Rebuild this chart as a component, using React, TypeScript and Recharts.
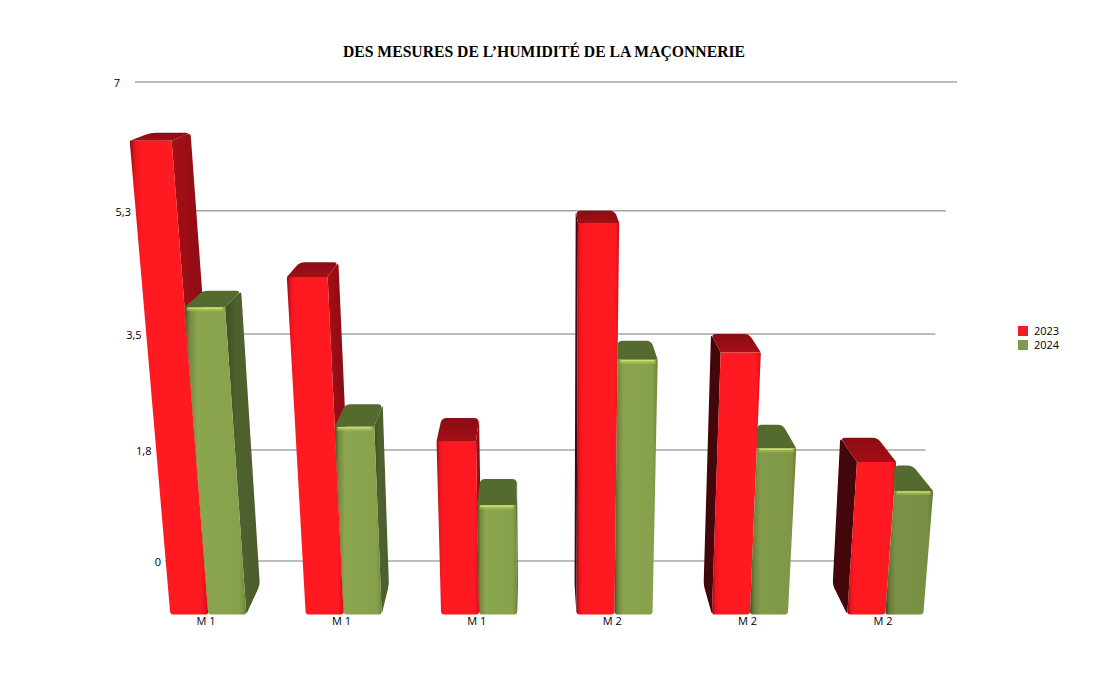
import React from 'react'
import { BarChart, Bar, XAxis, YAxis, CartesianGrid, Legend } from 'recharts'

const categories = ['M 1', 'M 1', 'M 1', 'M 2', 'M 2', 'M 2']
const values2023 = [6.33, 4.55, 2.27, 5.3, 3.5, 1.98]
const values2024 = [4.13, 2.47, 1.33, 3.4, 2.17, 1.55]
const valueTicks = [0, 1.8, 3.5, 5.3, 7]

const data = categories.map((name, i) => ({ name, y2023: values2023[i], y2024: values2024[i] }))

/* the wall of the 3D scene is not evenly spaced, so the axis gets its own scale */
const TICK_FRACTIONS = [0, 0.2317, 0.474, 0.731, 1]

function wallScale() {
  let dom: number[] = [0, 7]
  let rng: number[] = [0, 1]
  const s: any = (v: number) => {
    let f = 1
    for (let i = 0; i < valueTicks.length - 1; i++) {
      if (v <= valueTicks[i + 1]) {
        const t = (v - valueTicks[i]) / (valueTicks[i + 1] - valueTicks[i])
        f = TICK_FRACTIONS[i] + t * (TICK_FRACTIONS[i + 1] - TICK_FRACTIONS[i])
        break
      }
    }
    return rng[0] + (rng[1] - rng[0]) * f
  }
  s.domain = (d?: number[]) => {
    if (d) { dom = d; return s }
    return dom
  }
  s.range = (r?: number[]) => {
    if (r) { rng = r; return s }
    return rng
  }
  s.copy = () => wallScale().domain(dom).range(rng)
  s.ticks = () => valueTicks
  s.bandwidth = () => 0
  return s
}

const FLOOR_Y = 614.5
const BACK_FLOOR_Y = 585
const LEAN = 0.00022
const LEAN_X = 560
const DEPTH_X = 535
const DEPTH_K = 0.052

const depthY = (y: number) => 8 + 0.053 * (y - 133)
const dxTop = (x: number) => (DEPTH_X - x) * DEPTH_K
const dxBottom = (x: number) => (DEPTH_X - x) * DEPTH_K * 0.9

type Pt = [number, number]

// polygon with softened corners, one radius per corner
function roundPoly(pts: Pt[], radii: number[]) {
  const n = pts.length
  let d = ''
  for (let i = 0; i < n; i++) {
    const p = pts[i]
    const a = pts[(i + n - 1) % n]
    const b = pts[(i + 1) % n]
    const la = Math.hypot(a[0] - p[0], a[1] - p[1]) || 1
    const lb = Math.hypot(b[0] - p[0], b[1] - p[1]) || 1
    const ra = Math.min(radii[i], la / 2)
    const rb = Math.min(radii[i], lb / 2)
    const s: Pt = [p[0] + ((a[0] - p[0]) * ra) / la, p[1] + ((a[1] - p[1]) * ra) / la]
    const e: Pt = [p[0] + ((b[0] - p[0]) * rb) / lb, p[1] + ((b[1] - p[1]) * rb) / lb]
    d += `${i === 0 ? 'M' : 'L'}${s[0]},${s[1]} Q${p[0]},${p[1]} ${e[0]},${e[1]} `
  }
  return d + 'Z'
}

const THEME: Record<string, any> = {
  y2023: { front: 'url(#redFront)', top: 'url(#redTop)', right: 'url(#redRight)', left: '#43060a', glow: null },
  y2024: { front: 'url(#greenFront)', top: '#556a2f', right: 'url(#greenRight)', left: '#46582a', glow: '#cfe56f' },
}

function Bar3D(props: any) {
  const { x, y, width, series } = props
  const theme = THEME[series]
  const h = FLOOR_Y - (y + depthY(y))
  const topY = FLOOR_Y - h
  const lean = (bx: number) => LEAN_X + (bx - LEAN_X) * (1 + LEAN * h)

  const xL = x
  const xR = x + width
  const tL = lean(xL)
  const tR = lean(xR)

  // the green bar sits right against the red one, its left flank never shows
  const clampLeft = series === 'y2024'
  const backTL = tL + (clampLeft ? Math.max(dxTop(tL), 0) : dxTop(tL))
  const backBL = xL + (clampLeft ? Math.max(dxBottom(xL), 0) : dxBottom(xL))
  const backTR = tR + dxTop(tR)
  const backBR = xR + dxBottom(xR)
  const backY = y

  const front: Pt[] = [[tL, topY], [tR, topY], [xR, FLOOR_Y], [xL, FLOOR_Y]]
  const top: Pt[] = [[tL, topY], [backTL, backY], [backTR, backY], [tR, topY]]
  const rightSide: Pt[] = [[tR, topY], [backTR, backY], [backBR, BACK_FLOOR_Y], [xR, FLOOR_Y]]
  const leftSide: Pt[] = [[tL, topY], [backTL, backY], [backBL, BACK_FLOOR_Y], [xL, FLOOR_Y]]
  const dim = series === 'y2024' ? Math.max(0, (x - 600) / 300) * 0.12 : 0

  return (
    <g>
      {backTR > tR && <path d={roundPoly(rightSide, [0, 4, 4, 3])} fill={theme.right} />}
      {backTL < tL && <path d={roundPoly(leftSide, [0, 4, 4, 3])} fill={theme.left} />}
      <path d={roundPoly(top, [0, 5, 5, 0])} fill={theme.top} />
      <path d={roundPoly(front, [1, 1, 3, 3])} fill={theme.front} />
      {dim > 0 && <path d={roundPoly(front, [1, 1, 3, 3])} fill="#000" fillOpacity={dim} />}
      {theme.glow && (
        <>
          <line x1={tL + 2} y1={topY + 2} x2={tR - 2} y2={topY + 2} stroke={theme.glow} strokeWidth={4} strokeOpacity={0.3} />
          <line x1={tL + 3} y1={topY + 1} x2={tR - 3} y2={topY + 1} stroke={theme.glow} strokeWidth={1.5} strokeOpacity={0.85} />
        </>
      )}
    </g>
  )
}

const gridEnd = (y: number) => 957 - (y - 82) * 0.0856
const gridStart = (y: number) => 135 + (y - 82) * 0.0626

function WallLine(props: any) {
  const { y1 } = props
  return <line x1={gridStart(y1)} y1={y1} x2={gridEnd(y1)} y2={y1} stroke="#a6a6a6" strokeWidth={1.5} />
}

function ValueTick({ y, payload }: any) {
  return (
    <text x={120 + (y - 82) * 0.0856} y={y + 5} textAnchor="end" fontSize={11} fontFamily="'Open Sans', sans-serif" fill="#000">
      {String(payload.value).replace('.', ',')}
    </text>
  )
}

function CategoryTick({ x, payload }: any) {
  return (
    <text x={x - 2} y={625} textAnchor="middle" fontSize={11} fontFamily="'Open Sans', sans-serif" fill="#000">
      {payload.value}
    </text>
  )
}

function LegendBox({ payload }: any) {
  return (
    <div style={{ width: 0, height: 0, position: 'relative' }}>
      {(payload ?? []).map((p: any, i: number) => (
        <div
          key={p.value}
          style={{
            position: 'absolute', left: 0, top: i * 14, display: 'flex', alignItems: 'center', gap: 6,
            fontFamily: "'Open Sans', sans-serif", fontSize: 11, lineHeight: '14px', color: '#000',
          }}
        >
          <span style={{ width: 10, height: 10, background: p.color, display: 'inline-block' }} />
          <span>{p.value}</span>
        </div>
      ))}
    </div>
  )
}

export default function App() {
  return (
    <div style={{ position: 'absolute', left: 0, top: 0, width: 1105, height: 685, background: '#fff' }}>
      <BarChart
        width={1105}
        height={685}
        data={data}
        margin={{ top: 82, right: 152.3, bottom: 94, left: 130.3 }}
        barSize={38}
        barGap={0}
      >
        <defs>
          <linearGradient id="redFront" x1="0" y1="0" x2="1" y2="0">
            <stop offset="0%" stopColor="#8c0a10" />
            <stop offset="7%" stopColor="#ee141c" />
            <stop offset="16%" stopColor="#ff1921" />
            <stop offset="90%" stopColor="#ff1921" />
            <stop offset="98%" stopColor="#e01119" />
            <stop offset="100%" stopColor="#a00c12" />
          </linearGradient>
          <linearGradient id="redTop" x1="0" y1="0" x2="0" y2="1">
            <stop offset="0%" stopColor="#8a0d13" />
            <stop offset="100%" stopColor="#a50d16" />
          </linearGradient>
          <linearGradient id="redRight" x1="0" y1="0" x2="1" y2="0">
            <stop offset="0%" stopColor="#a80f16" />
            <stop offset="100%" stopColor="#7c0a10" />
          </linearGradient>
          <linearGradient id="greenFront" x1="0" y1="0" x2="1" y2="0">
            <stop offset="0%" stopColor="#3f4f25" />
            <stop offset="8%" stopColor="#74893f" />
            <stop offset="22%" stopColor="#8ca650" />
            <stop offset="88%" stopColor="#87a14c" />
            <stop offset="97%" stopColor="#76903f" />
            <stop offset="100%" stopColor="#62792f" />
          </linearGradient>
          <linearGradient id="greenRight" x1="0" y1="0" x2="1" y2="0">
            <stop offset="0%" stopColor="#3f4f25" />
            <stop offset="35%" stopColor="#4f622e" />
            <stop offset="100%" stopColor="#4b5d2b" />
          </linearGradient>
        </defs>
        <text
          x={544}
          y={57}
          textAnchor="middle"
          fontFamily="'Liberation Serif', serif"
          fontWeight={700}
          fontSize={15.7}
          fill="#000"
        >
          DES MESURES DE L’HUMIDITÉ DE LA MAÇONNERIE
        </text>
        <CartesianGrid vertical={false} horizontal={(p: any) => <WallLine key={p.y1} {...p} />} />
        <XAxis dataKey="name" axisLine={false} tickLine={false} height={30} interval={0} tick={<CategoryTick />} />
        <YAxis
          type="number"
          domain={[0, 7]}
          scale={wallScale()}
          ticks={valueTicks}
          interval={0}
          width={10}
          axisLine={false}
          tickLine={false}
          tick={<ValueTick />}
        />
        <Legend
          layout="vertical"
          align="right"
          verticalAlign="top"
          wrapperStyle={{ left: 1018, top: 324, width: 0, height: 0 }}
          content={<LegendBox />}
        />
        <Bar
          dataKey="y2023"
          name="2023"
          fill="#ee1c25"
          isAnimationActive={false}
          shape={(p: any) => <Bar3D {...p} series="y2023" />}
        />
        <Bar
          dataKey="y2024"
          name="2024"
          fill="#7f9a48"
          isAnimationActive={false}
          shape={(p: any) => <Bar3D {...p} series="y2024" />}
        />
      </BarChart>
    </div>
  )
}
